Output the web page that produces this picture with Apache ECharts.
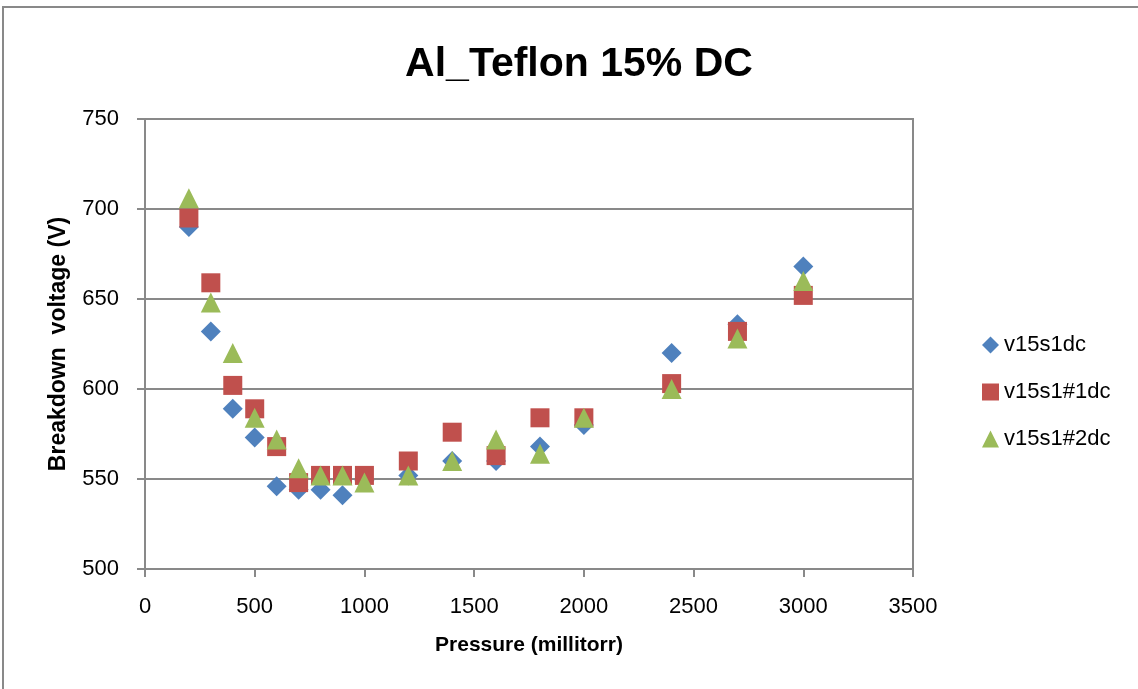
<!DOCTYPE html>
<html>
<head>
<meta charset="utf-8">
<title>Al_Teflon 15% DC</title>
<script src="https://cdn.jsdelivr.net/npm/echarts@6/dist/echarts.min.js"></script>
<style>
  html, body { margin: 0; padding: 0; background: #ffffff; }
  #chart { width: 1138px; height: 689px; }
</style>
</head>
<body>
<div id="chart"></div>
<script>
// Pressure settings (millitorr) shared by all runs
const pressure = [200, 300, 400, 500, 600, 700, 800, 900, 1000, 1200, 1400, 1600, 1800, 2000, 2400, 2700, 3000];

// Breakdown voltage (V) per run
const v15s1dc   = [690, 632, 589, 573, 546, 544, 544, 541, 549, 552, 560, 560, 568, 580, 620, 636, 668];
const v15s1n1dc = [695, 659, 602, 589, 568, 548, 552, 552, 552, 560, 576, 563, 584, 584, 603, 632, 652];
const v15s1n2dc = [706, 648, 620, 584, 572, 556, 552, 552, 548, 552, 560, 572, 564, 584, 600, 628, 660];

const seriesNames = ['v15s1dc', 'v15s1#1dc', 'v15s1#2dc'];

function pairs(ys) {
  return pressure.map((p, i) => [p, ys[i]]);
}

const gray = '#898989';
const font = '"Liberation Sans", Arial, sans-serif';

const chart = echarts.init(document.getElementById('chart'), null, { renderer: 'canvas' });

chart.setOption({
  animation: false,
  backgroundColor: '#ffffff',
  graphic: [{
    type: 'rect',
    shape: { x: 3, y: 7, width: 1200, height: 720 },
    style: { fill: 'none', stroke: gray, lineWidth: 2 },
    silent: true,
    z: -1
  }],
  title: {
    text: 'Al_Teflon 15% DC',
    left: 574,
    top: 39,
    textAlign: 'center',
    textStyle: { fontFamily: font, fontSize: 41, fontWeight: 'bold', color: '#000000' }
  },
  legend: {
    orient: 'vertical',
    left: 977,
    top: 329,
    itemWidth: 17,
    itemHeight: 17,
    itemGap: 25,
    textStyle: { fontFamily: font, fontSize: 22, color: '#000000', lineHeight: 22 },
    data: [
      { name: seriesNames[0], icon: 'diamond' },
      { name: seriesNames[1], icon: 'rect' },
      { name: seriesNames[2], icon: 'triangle' }
    ]
  },
  grid: {
    left: 145, right: 225, top: 119, bottom: 120,
    show: true, borderColor: gray, borderWidth: 2
  },
  xAxis: {
    type: 'value',
    min: 0, max: 3500, interval: 500,
    name: 'Pressure (millitorr)',
    nameLocation: 'middle',
    nameGap: 66,
    nameTextStyle: { fontFamily: font, fontSize: 21, fontWeight: 'bold', color: '#000000' },
    axisLine: { show: true, lineStyle: { color: gray, width: 2 } },
    axisTick: { show: true, length: 8, lineStyle: { color: gray, width: 2 } },
    axisLabel: { fontFamily: font, fontSize: 22, color: '#000000', margin: 27, formatter: v => String(v) },
    splitLine: { show: false }
  },
  yAxis: {
    type: 'value',
    min: 500, max: 750, interval: 50,
    name: 'Breakdown  voltage (V)',
    nameLocation: 'middle',
    nameRotate: 90,
    nameGap: 75,
    nameTextStyle: { fontFamily: font, fontSize: 23, fontWeight: 'bold', color: '#000000' },
    axisLine: { show: true, lineStyle: { color: gray, width: 2 } },
    axisTick: { show: true, length: 8, lineStyle: { color: gray, width: 2 } },
    axisLabel: { fontFamily: font, fontSize: 22, color: '#000000', margin: 26, formatter: v => String(v) },
    splitLine: { show: true, lineStyle: { color: gray, width: 2 } }
  },
  series: [
    {
      name: seriesNames[0], type: 'scatter', symbol: 'diamond', symbolSize: 20,
      itemStyle: { color: '#4F81BD', opacity: 1 },
      data: pairs(v15s1dc), z: 2
    },
    {
      name: seriesNames[1], type: 'scatter', symbol: 'rect', symbolSize: 19,
      itemStyle: { color: '#C0504D', opacity: 1 },
      data: pairs(v15s1n1dc), z: 3
    },
    {
      name: seriesNames[2], type: 'scatter', symbol: 'triangle', symbolSize: 20,
      itemStyle: { color: '#9BBB59', opacity: 1 },
      data: pairs(v15s1n2dc), z: 4
    }
  ]
});
</script>
</body>
</html>
